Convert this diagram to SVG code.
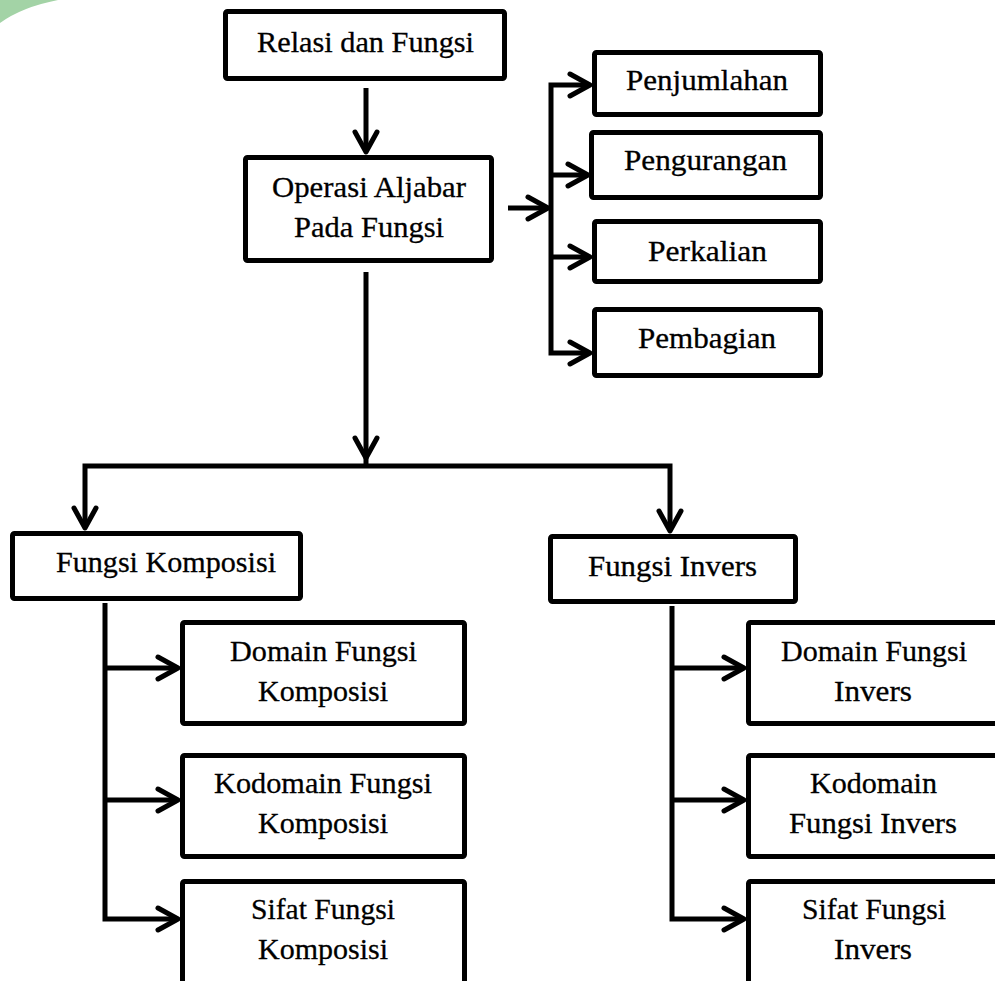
<svg xmlns="http://www.w3.org/2000/svg" width="995" height="981" viewBox="0 0 995 981">
<style>
.box{fill:#fff;stroke:#000;stroke-width:5;}
.t{font-family:"Liberation Serif","Times New Roman",serif;font-size:30px;fill:#000;stroke:#000;stroke-width:0.3;}
.c{fill:none;stroke:#000;stroke-width:5;stroke-linejoin:miter;}
</style>
<defs>
<marker id="ah" markerUnits="userSpaceOnUse" orient="auto-start-reverse" refX="0" refY="0" markerWidth="1" markerHeight="1" overflow="visible">
<path d="M-18,-11 L2,0 L-18,11" fill="none" stroke="#000" stroke-width="5" stroke-linejoin="round" stroke-linecap="round"/>
</marker>
</defs>
<rect width="995" height="981" fill="#fff"/>
<path d="M0,0 H58 Q22,7 0,23 Z" fill="#a3d3a6"/>

<g id="connectors">
<path class="c" d="M366,88 V150" marker-end="url(#ah)"/>
<path class="c" d="M366,272 V456" marker-end="url(#ah)"/>
<path class="c" d="M366,454 V466"/>
<path class="c" d="M85,526 V466 H670 V529" marker-start="url(#ah)" marker-end="url(#ah)"/>
<path class="c" d="M508,208 H546" marker-end="url(#ah)"/>
<path class="c" d="M588,85 H551 V353 H588" marker-start="url(#ah)" marker-end="url(#ah)"/>
<path class="c" d="M551,175 H586" marker-end="url(#ah)"/>
<path class="c" d="M551,257 H588" marker-end="url(#ah)"/>
<path class="c" d="M105,603 V919 H176" marker-end="url(#ah)"/>
<path class="c" d="M105,668 H176" marker-end="url(#ah)"/>
<path class="c" d="M105,800 H176" marker-end="url(#ah)"/>
<path class="c" d="M672,606 V919 H742" marker-end="url(#ah)"/>
<path class="c" d="M672,668 H742" marker-end="url(#ah)"/>
<path class="c" d="M672,800 H742" marker-end="url(#ah)"/>
</g>

<g id="relasi"><rect class="box" x="225.5" y="11.5" width="279" height="67" rx="2"/>
<text class="t" x="257" y="52" textLength="217" lengthAdjust="spacingAndGlyphs">Relasi dan Fungsi</text></g>

<g id="operasi"><rect class="box" x="245.5" y="157.5" width="246" height="103" rx="2"/>
<text class="t" x="272" y="197" textLength="194" lengthAdjust="spacingAndGlyphs">Operasi Aljabar</text>
<text class="t" x="294" y="237" textLength="150" lengthAdjust="spacingAndGlyphs">Pada Fungsi</text></g>

<g id="penjumlahan"><rect class="box" x="594.5" y="52.5" width="226" height="62" rx="2"/>
<text class="t" x="626" y="90" textLength="162" lengthAdjust="spacingAndGlyphs">Penjumlahan</text></g>

<g id="pengurangan"><rect class="box" x="591.5" y="132.5" width="229" height="65" rx="2"/>
<text class="t" x="624" y="170" textLength="163" lengthAdjust="spacingAndGlyphs">Pengurangan</text></g>

<g id="perkalian"><rect class="box" x="594.5" y="221.5" width="226" height="60" rx="2"/>
<text class="t" x="648" y="261" textLength="119" lengthAdjust="spacingAndGlyphs">Perkalian</text></g>

<g id="pembagian"><rect class="box" x="594.5" y="309.5" width="226" height="66" rx="2"/>
<text class="t" x="638" y="348" textLength="138" lengthAdjust="spacingAndGlyphs">Pembagian</text></g>

<g id="fungsi-komposisi"><rect class="box" x="12.5" y="533.5" width="288" height="65" rx="2"/>
<text class="t" x="56" y="572" textLength="220" lengthAdjust="spacingAndGlyphs">Fungsi Komposisi</text></g>

<g id="fungsi-invers"><rect class="box" x="550.5" y="536.5" width="245" height="65" rx="2"/>
<text class="t" x="588" y="576" textLength="169" lengthAdjust="spacingAndGlyphs">Fungsi Invers</text></g>

<g id="domain-komposisi"><rect class="box" x="182.5" y="622.5" width="282" height="101" rx="2"/>
<text class="t" x="230" y="661" textLength="187" lengthAdjust="spacingAndGlyphs">Domain Fungsi</text>
<text class="t" x="258" y="701" textLength="130" lengthAdjust="spacingAndGlyphs">Komposisi</text></g>

<g id="kodomain-komposisi"><rect class="box" x="182.5" y="755.5" width="282" height="101" rx="2"/>
<text class="t" x="214" y="793" textLength="218" lengthAdjust="spacingAndGlyphs">Kodomain Fungsi</text>
<text class="t" x="258" y="833" textLength="130" lengthAdjust="spacingAndGlyphs">Komposisi</text></g>

<g id="sifat-komposisi"><rect class="box" x="182.5" y="881.5" width="282" height="130" rx="2"/>
<text class="t" x="251" y="919" textLength="144" lengthAdjust="spacingAndGlyphs">Sifat Fungsi</text>
<text class="t" x="258" y="959" textLength="130" lengthAdjust="spacingAndGlyphs">Komposisi</text></g>

<g id="domain-invers"><rect class="box" x="748.5" y="622.5" width="260" height="101" rx="2"/>
<text class="t" x="781" y="661" textLength="186" lengthAdjust="spacingAndGlyphs">Domain Fungsi</text>
<text class="t" x="834" y="701" textLength="78" lengthAdjust="spacingAndGlyphs">Invers</text></g>

<g id="kodomain-invers"><rect class="box" x="748.5" y="755.5" width="260" height="101" rx="2"/>
<text class="t" x="810" y="793" textLength="127" lengthAdjust="spacingAndGlyphs">Kodomain</text>
<text class="t" x="789" y="833" textLength="168" lengthAdjust="spacingAndGlyphs">Fungsi Invers</text></g>

<g id="sifat-invers"><rect class="box" x="748.5" y="881.5" width="260" height="130" rx="2"/>
<text class="t" x="802" y="919" textLength="144" lengthAdjust="spacingAndGlyphs">Sifat Fungsi</text>
<text class="t" x="834" y="959" textLength="78" lengthAdjust="spacingAndGlyphs">Invers</text></g>
</svg>
